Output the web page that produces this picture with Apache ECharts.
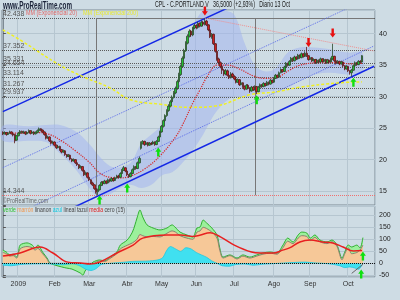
<!DOCTYPE html>
<html><head><meta charset="utf-8">
<script src="https://cdn.jsdelivr.net/npm/echarts@6/dist/echarts.min.js"></script>
<style>html,body{margin:0;padding:0;background:#cedce4}#c{width:400px;height:300px}</style>
</head><body><div id="c"></div>
<script>
// ---------- DATA ----------
const monthStarts = [9,30,50,72,92,112,134,157,178,200];
const monthLabels = ['2009','Feb','Mar','Abr','May','Jun','Jul','Ago','Sep','Oct'];
const slotCount = 216;
// daily candles [open, close, low, high]
const ohlc = [
[24.3,24.1,23.9,24.5],[24.1,24.3,24.0,24.5],[24.3,24.0,23.8,24.4],[24.0,24.2,23.9,24.4],[24.2,24.4,24.1,24.6],
[24.4,24.1,24.0,24.5],[24.1,23.9,23.7,24.2],[24.0,23.0,22.6,24.1],[23.1,23.8,23.0,23.9],[23.8,24.2,23.7,24.4],
[24.2,24.5,24.1,24.7],[24.5,24.3,24.1,24.6],[24.3,24.4,24.1,24.6],[24.4,24.1,23.9,24.5],[24.1,24.3,24.0,24.5],
[24.3,24.6,24.2,24.8],[24.6,24.2,24.0,24.7],[24.2,24.4,24.1,24.6],[24.4,24.1,23.9,24.5],[24.1,24.3,24.0,24.5],
[24.3,24.6,24.2,24.8],[24.6,24.9,24.5,25.1],[24.9,24.7,24.5,25.0],[24.7,24.4,24.2,24.8],[24.4,24.0,23.8,24.5],
[24.0,23.4,23.2,24.1],[23.4,23.6,23.3,23.8],[23.6,23.0,22.8,23.7],[23.0,22.6,22.4,23.1],[22.6,22.8,22.5,23.0],
[22.8,22.3,22.1,22.9],[22.3,21.9,21.7,22.4],[21.9,22.1,21.8,22.3],[22.1,21.6,21.4,22.2],[21.6,21.2,21.0,21.7],
[21.2,21.4,21.1,21.6],[21.4,20.8,20.6,21.5],[20.8,20.5,20.3,20.9],[20.5,20.7,20.4,20.9],[20.7,20.1,19.9,20.8],
[20.1,19.8,19.6,20.2],[19.8,20.0,19.7,20.2],[20.0,19.5,19.3,20.1],[19.5,19.2,19.0,19.6],[19.2,18.7,18.5,19.3],
[18.7,18.9,18.6,19.1],[18.9,18.3,18.1,19.0],[18.3,17.6,17.4,18.4],[17.6,17.9,17.5,18.1],[17.9,17.2,17.0,18.0],
[17.2,16.8,16.6,17.3],[16.8,16.3,16.1,16.9],[16.3,16.0,15.8,16.5],[16.0,15.4,15.2,16.1],[15.4,14.9,14.6,15.5],
[14.9,15.2,14.344,15.4],[15.2,15.9,15.1,16.1],[15.9,16.4,15.8,16.6],[16.4,16.2,16.0,16.6],[16.2,16.6,16.1,16.8],
[16.6,16.3,16.1,16.7],[16.3,16.8,16.2,17.0],[16.8,16.6,16.4,17.0],[16.6,17.0,16.5,17.2],[17.0,16.7,16.5,17.1],
[16.7,17.1,16.6,17.3],[17.1,17.4,17.0,17.6],[17.4,17.2,17.0,17.6],[17.2,17.8,17.1,18.0],[17.8,18.3,17.7,18.5],
[18.3,18.7,18.2,19.0],[18.7,18.2,18.0,18.8],[18.2,17.6,17.4,18.3],[17.6,17.3,17.1,17.7],[17.3,17.8,17.2,18.0],
[17.8,18.4,17.7,18.6],[18.4,18.9,18.3,19.1],[18.9,18.6,18.4,19.0],[18.6,19.5,18.5,19.7],[19.5,20.2,19.4,20.5],
[21.8,22.6,21.6,22.9],[22.6,22.9,22.4,23.1],[22.9,22.4,22.2,23.0],[22.4,22.7,22.3,22.9],[22.7,22.3,22.1,22.8],
[22.3,22.6,22.2,22.8],[22.6,22.5,22.3,22.8],[22.5,22.8,22.4,23.0],[22.8,22.4,22.2,22.9],[22.4,22.9,22.3,23.1],
[22.9,23.6,22.8,23.8],[23.6,24.4,23.5,24.6],[24.4,25.3,24.3,25.5],[25.3,26.2,25.1,26.4],[26.2,27.0,26.0,27.2],
[27.0,27.8,26.8,28.0],[27.8,28.5,27.6,28.8],[28.5,29.2,28.3,29.5],[29.2,29.9,29.0,30.2],[29.9,30.6,29.7,30.9],
[30.6,31.3,30.4,31.6],[31.3,32.4,31.1,32.7],[32.4,33.5,32.2,33.8],[33.5,34.8,33.3,35.1],[34.8,36.1,34.6,36.4],
[36.1,37.3,35.9,37.6],[37.3,38.5,37.1,38.8],[38.5,39.6,38.3,39.9],[39.6,40.4,39.4,40.7],[40.4,39.8,39.5,40.6],
[39.8,40.9,39.6,41.1],[40.9,41.3,40.7,41.6],[41.3,41.0,40.7,41.5],[41.0,41.6,40.8,41.9],[41.6,41.2,41.0,41.8],
[41.2,41.8,41.1,42.1],[41.8,41.5,41.2,42.0],[41.5,42.0,41.3,42.438],[42.0,41.4,41.2,42.2],[41.4,40.6,40.4,41.5],
[40.6,39.5,39.3,40.7],[39.5,39.9,39.2,40.1],[39.9,38.4,38.2,40.0],[38.4,37.2,37.0,38.5],[37.2,36.0,35.7,37.3],
[36.0,35.4,35.1,36.2],[35.4,34.8,34.5,35.6],[34.8,34.2,33.6,35.0],[34.2,33.6,33.3,34.4],[33.6,34.1,33.4,34.4],
[34.1,33.4,33.2,34.3],[33.4,33.0,32.8,33.6],[33.0,33.6,32.9,33.9],[33.6,33.2,33.0,33.8],[33.2,32.8,32.6,33.4],
[32.8,32.3,32.1,33.0],[32.3,32.7,32.2,32.9],[32.7,31.9,31.7,32.8],[31.9,32.2,31.8,32.5],[32.2,31.6,31.4,32.3],
[31.6,31.2,31.0,31.8],[31.2,31.8,31.1,32.0],[31.8,31.4,31.2,32.0],[31.4,30.9,30.6,31.5],[30.9,31.5,30.8,31.7],
[31.5,31.1,30.9,31.7],[31.1,31.6,31.0,31.8],[31.6,30.8,30.4,31.7],[30.8,31.5,30.7,31.7],[31.5,31.9,31.4,32.1],
[31.9,31.6,31.4,32.0],[31.6,32.1,31.5,32.3],[32.1,31.8,31.6,32.2],[31.8,32.3,31.7,32.5],[32.3,32.0,31.8,32.4],
[32.0,32.6,31.9,32.8],[32.6,32.3,32.1,32.7],[32.3,32.9,32.2,33.1],[32.9,33.4,32.8,33.6],[33.4,33.1,32.9,33.5],
[33.1,33.8,33.0,34.0],[33.8,34.3,33.7,34.5],[34.3,34.0,33.8,34.4],[34.0,34.7,33.9,34.9],[34.7,35.3,34.6,35.5],
[35.3,35.0,34.8,35.4],[35.0,35.6,34.9,35.8],[35.6,36.1,35.5,36.3],[36.1,35.7,35.5,36.2],[35.7,36.3,35.6,36.5],
[36.3,36.0,35.8,36.4],[36.0,36.6,35.9,36.8],[36.6,36.2,36.0,36.7],[36.2,36.8,36.1,37.0],[36.8,36.4,36.2,36.9],
[36.4,36.9,36.3,37.2],[36.9,36.5,36.3,37.9],[36.5,35.9,35.7,36.6],[35.9,36.2,35.8,36.4],[36.2,35.7,35.5,36.3],
[35.7,35.9,35.6,36.1],[35.9,35.4,35.2,36.0],[35.4,35.8,35.3,36.0],[35.8,35.5,35.3,35.9],[35.5,36.0,35.4,36.2],
[36.0,35.6,35.4,36.1],[35.6,35.9,35.5,36.1],[35.9,35.4,35.2,36.0],[35.4,35.8,35.3,36.0],[35.8,35.5,35.3,35.9],
[35.5,36.0,35.4,36.2],[36.0,36.4,35.8,38.4],[36.4,35.7,35.5,36.5],[35.7,35.3,35.1,35.8],[35.3,35.6,35.2,35.8],
[35.6,35.2,35.0,35.7],[35.2,35.5,35.1,35.7],[35.5,34.9,34.7,35.6],[34.9,34.4,34.2,35.0],[34.4,34.8,34.3,35.0],
[34.8,34.1,33.9,34.9],[34.1,33.8,33.5,34.2],[33.8,34.2,33.2,34.4],[34.2,34.9,34.1,35.1],[34.9,35.4,34.8,35.6],
[35.4,35.1,34.9,35.5],[35.1,35.6,35.0,35.8],[35.6,35.5,35.3,35.8],[35.5,36.5,35.4,36.6]
];
// moving averages, [candle index, value]
const ema20 = [[0,24.3],[10,24.2],[20,24.3],[27,24.0],[35,22.8],[42,21.4],[50,19.6],[56,17.9],[62,17.2],[68,17.1],[74,17.4],[82,18.5],[91,20.6],[100,23.6],[104,25.5],[110,29.0],[114,31.0],[119,33.5],[124,35.0],[130,35.0],[137,34.4],[145,33.3],[152,32.9],[158,33.0],[166,34.2],[172,35.0],[184,35.4],[195,35.4],[201,35.2],[208,35.29]];
const ema200 = [[0,40.6],[10,39.0],[33,35.0],[47,33.1],[62,31.4],[74,29.5],[91,28.8],[108,28.3],[123,28.5],[143,30.3],[158,30.75],[172,31.5],[195,32.2],[208,32.35]];
// shaded envelope
const bandIdx   = [0,15,25,33,42,50,56,62,68,74,80,86,92,98,104,110,116,122,128,134,140,146,152,158,165,172,180,190,200,208];
const bandUpper = [25.4,25.3,25.5,25.5,24.5,22.5,20.5,19.0,18.8,19.5,22.5,24.0,25.5,29.5,35.0,41.0,43.7,43.7,43.7,43.0,38.5,35.0,34.0,34.5,37.0,37.8,37.8,37.5,37.0,37.0];
const bandLower = [23.0,23.0,22.8,21.0,18.5,15.5,14.0,14.5,15.5,16.0,15.5,16.0,17.5,18.0,19.5,21.5,24.0,27.0,29.0,30.0,30.0,30.5,30.8,31.0,31.5,32.5,33.5,33.8,33.5,33.8];
// retracement levels
const fibLevels = [42.438,37.352,35.331,34.654,33.114,31.267,29.937,14.344];
const fibStart = 54, fibEnd = 146;
// trend channel lines [[idx, price],[idx, price]]
const chanUpper = [[0,27.62],[215,54.8]];
const chanLower = [[0,7.14],[215,34.83]];
const chanDot1 = [[0,18.73],[215,45.97]];
const chanDot2 = [[0,10.35],[215,38.06]];
const resistLine = [[117,42.49],[215,37.25]];
// signals
const arrowsDown = [[117,43.6],[177,38.6],[191,40.1]];
const arrowsUp = [[56,13.6],[72,15.5],[90,21.2],[147,29.5],[203,32.3]];
// price tags
const tagValues = [36.5,35.286,32.352];
const tagTexts = ['36,5000','35,286','32,352'];
// oscillator panel
const verde = [[0,55],[2,47],[4,35],[6,38],[8,26],[9,47],[10,76],[14,85],[17,76],[18.6,64],[20.3,76],[23,47],[25.6,22],[27.3,1],[30,-7],[34,-15],[37,-20],[40,-24],[44.7,-40],[46.4,-49],[47.6,-32],[50.5,-7],[52.2,5],[56,14],[59,10],[62,26],[66,47],[68,76],[72,97],[75,130],[76.5,160],[77.7,189],[79.4,222],[81,193],[83.5,160],[87,147],[91,139],[95,147],[98,160],[99.7,151],[102.6,130],[106.6,118],[110,110],[112.4,147],[114.2,151],[116,180],[118,168],[121,147],[124,118],[125.6,64],[127.5,26],[131.5,35],[135.6,22],[139,35],[143,26],[147,35],[150.6,43],[154.7,47],[158.7,43],[162.2,76],[165,105],[168,89],[171,118],[173,130],[176,126],[178,105],[180.7,118],[183.6,97],[187.7,89],[190.6,97],[193.5,76],[196.4,22],[198,47],[200,76],[202,68],[205,76],[206.8,64],[208.5,107]];
const marron = [[0,45],[2,40],[4,30],[6,32],[8,22],[10,60],[14,70],[17,65],[18.6,55],[20.3,62],[23,40],[25.6,18],[27.3,0],[52,0],[56,10],[59,8],[62,20],[66,40],[68,60],[72,75],[75,85],[77.7,100],[79.4,120],[81,115],[83.5,110],[87,112],[91,110],[95,125],[98,135],[100,130],[102.6,115],[106.6,105],[110,100],[112.4,130],[114.2,135],[116,150],[118,145],[121,130],[124,105],[125.6,55],[127.5,22],[131.5,32],[135.6,18],[139,30],[143,22],[147,30],[150.6,38],[154.7,42],[158.7,38],[162.2,65],[165,92],[168,82],[171,105],[173,115],[176,112],[178,95],[180.7,108],[183.6,90],[187.7,82],[190.6,90],[193.5,70],[196.4,15],[198,40],[200,65],[202,40],[205,45],[206.8,55],[208.5,76]];
const azul = [[0,-8],[5,-10],[10,-5],[15,-3],[25,-2],[30,-4],[35,-6],[40,-2],[45,-12],[48,-25],[51,-30],[54,-22],[57,-5],[62,0],[68,3],[75,8],[85,10],[92,20],[95,55],[97,70],[100,60],[103,50],[106,65],[109,60],[112,45],[115,35],[118,25],[121,10],[124,0],[127,-10],[131,-12],[135,-5],[140,-3],[145,-8],[150,-4],[155,-2],[160,0],[165,2],[170,4],[175,5],[180,2],[185,0],[190,-3],[195,-10],[198,-18],[201,-15],[204,-20],[206,-25],[208,-7]];
const media = [[0,30],[10,43],[21.5,68],[29,43],[37.6,5],[45,1],[50.5,-3],[56,5],[66,43],[75.4,76],[81,105],[95,118],[103,118],[110,112],[114,117],[120,127],[126,110],[134,76],[144,47],[149,43],[157,43],[162,55],[166,64],[172,89],[178,97],[185,89],[191,85],[197,68],[203,51],[208,53]];
const lineal = [[202,-42],[208.5,-4]];
const oscArrows = [[208.5,30],[207.5,-45]];
const oscTagValues = [106.83,76.07,52.0,-7.001];
const oscTagTexts = ['106,83','76,071','55,046','-7,001'];
const oscTagColors = ['#22c022','#f09040','#e02020','#10c8e0'];

// ---------- CHART ----------
const FF = '"Liberation Sans", Arial, sans-serif';
const mctx = document.createElement('canvas').getContext('2d');
function fit(text, font, w){ mctx.font = font; return w / mctx.measureText(text).width; }
const cats = Array.from({length: slotCount}, (_, i) => String(i));
const isMonth = (i) => monthStarts.indexOf(i) >= 0;
const upArrow = 'path://M5,0 L10,6 L7,6 L7,13 L3,13 L3,6 L0,6 Z';
const downArrow = 'path://M3,0 L7,0 L7,7 L10,7 L5,13 L0,7 L3,7 Z';
const GRIDC = '#b6c6d0';
const FRAME = '#7d8a94';

const fibMarks = fibLevels.map(v => ({
  yAxis: v,
  lineStyle: {type: 'dotted', color: v === 14.344 ? '#f07070' : '#5a5a5a', width: 1},
  label: {show: true, position: 'insideStartTop', distance: 1, formatter: v.toFixed(3), fontSize: 7, color: '#555', fontFamily: FF}
}));
fibMarks.push([{coord: [fibStart, fibLevels[0]], lineStyle: {type: 'solid', color: '#777', width: 1}}, {coord: [slotCount - 1, fibLevels[0]]}]);
fibMarks.push([{coord: [fibStart, fibLevels[0]], lineStyle: {type: 'solid', color: '#777', width: 1}}, {coord: [fibStart, fibLevels[7]]}]);
fibMarks.push([{coord: [fibEnd, fibLevels[0]], lineStyle: {type: 'solid', color: '#777', width: 1}}, {coord: [fibEnd, fibLevels[7]]}]);
const tagColors = [['#111', '#f7bb00'], ['#e02020', '#d8e2e8'], ['#e8e020', '#d8e2e8']];
tagValues.forEach((v, k) => fibMarks.push({
  yAxis: v, lineStyle: {opacity: 0},
  label: {show: true, position: 'end', distance: 2, formatter: tagTexts[k], fontSize: 7, fontFamily: FF,
    color: tagColors[k][0], backgroundColor: tagColors[k][1], borderColor: '#808c96', borderWidth: 1, padding: [1, 2, 0, 2]}
}));

const arrowPts = arrowsDown.map(p => ({coord: p, symbol: downArrow, symbolSize: [6, 9], itemStyle: {color: '#e81010'}}))
  .concat(arrowsUp.map(p => ({coord: p, symbol: upArrow, symbolSize: [6, 9], itemStyle: {color: '#10e010'}})));

function lineSeries(data, color, type, width, extra) {
  return Object.assign({type: 'line', xAxisIndex: 1, yAxisIndex: 0, data: data, symbol: 'none', silent: true,
    lineStyle: {color: color, type: type, width: width}, z: 3}, extra || {});
}

const oscMarks = [{yAxis: 0, lineStyle: {type: 'dotted', color: '#111', width: 1}, label: {show: false}}];
oscTagValues.forEach((v, k) => oscMarks.push({
  yAxis: v, lineStyle: {opacity: 0},
  label: {show: true, position: 'end', distance: 2, formatter: oscTagTexts[k], fontSize: 7, fontFamily: FF,
    color: oscTagColors[k], backgroundColor: '#d8e2e8', borderColor: '#808c96', borderWidth: 1, padding: [1, 2, 0, 2]}
}));

const option = {
  animation: false,
  backgroundColor: '#cedce4',
  textStyle: {fontFamily: FF},
  grid: [
    {left: 2, right: 25, top: 10, height: 195, show: true, borderColor: FRAME, borderWidth: 1, outerBoundsMode: 'none'},
    {left: 2, right: 25, top: 206, height: 71, show: true, borderColor: FRAME, borderWidth: 1, outerBoundsMode: 'none'}
  ],
  xAxis: [
    {type: 'category', gridIndex: 0, data: cats, boundaryGap: true, axisLine: {show: false}, axisTick: {show: false}, axisLabel: {show: false},
      splitLine: {show: true, interval: (i) => isMonth(i), lineStyle: {color: GRIDC, width: 1}}},
    {type: 'value', gridIndex: 0, min: -0.5, max: slotCount - 0.5, show: false},
    {type: 'category', gridIndex: 1, data: cats, boundaryGap: true, axisLine: {show: false}, axisTick: {show: false},
      axisLabel: {show: true, interval: (i) => isMonth(i), formatter: (v, i) => monthLabels[monthStarts.indexOf(i)] || '', fontSize: 7, color: '#333', margin: 4},
      splitLine: {show: true, interval: (i) => isMonth(i), lineStyle: {color: GRIDC, width: 1}}},
    {type: 'value', gridIndex: 1, min: -0.5, max: slotCount - 0.5, show: false}
  ],
  yAxis: [
    {type: 'value', gridIndex: 0, position: 'right', min: 12.8, max: 43.76, minInterval: 5, maxInterval: 5, splitNumber: 6,
      axisLine: {show: true, lineStyle: {color: FRAME}}, axisTick: {show: true, length: 3, lineStyle: {color: '#555'}},
      axisLabel: {fontSize: 7, color: '#222', margin: 4, formatter: (v) => (Math.abs(v % 5) < 1e-6 ? String(v) : '')},
      splitLine: {show: true, lineStyle: {color: GRIDC}}},
    {type: 'value', gridIndex: 1, position: 'right', min: -57, max: 238.7, minInterval: 50, maxInterval: 50, splitNumber: 5,
      axisLine: {show: true, lineStyle: {color: FRAME}}, axisTick: {show: true, length: 3, lineStyle: {color: '#555'}},
      axisLabel: {fontSize: 7, color: '#222', margin: 4, formatter: (v) => (Math.abs(v % 50) < 1e-6 ? String(v) : '')},
      splitLine: {show: true, lineStyle: {color: GRIDC}}}
  ],
  series: [
    {type: 'custom', xAxisIndex: 1, yAxisIndex: 0, silent: true, z: 1, data: [[0, 20]],
      renderItem: function (params, api) {
        const pts = [];
        bandIdx.forEach((ix, k) => pts.push(api.coord([ix, bandUpper[k]])));
        for (let k = bandIdx.length - 1; k >= 0; k--) pts.push(api.coord([bandIdx[k], bandLower[k]]));
        return {type: 'polygon', shape: {points: pts, smooth: 0.35}, style: {fill: 'rgba(160,178,240,0.5)'}};
      }},
    lineSeries(chanDot1, '#6070e8', 'dotted', 1),
    lineSeries(chanDot2, '#6070e8', 'dotted', 1),
    lineSeries(chanUpper, '#1428e6', 'solid', 1.5),
    lineSeries(chanLower, '#1428e6', 'solid', 1.5),
    lineSeries(resistLine, '#f09090', 'dotted', 1),
    lineSeries(ema200, '#f0f020', [3, 2], 1.5, {smooth: 0.4}),
    lineSeries(ema20, '#d82828', 'dotted', 1.2, {smooth: 0.4}),
    {type: 'candlestick', xAxisIndex: 0, yAxisIndex: 0, data: ohlc, barWidth: 2, z: 4, silent: true,
      itemStyle: {color: '#22c030', color0: '#d02020', borderColor: '#2c4a2c', borderColor0: '#5a1a1a', borderWidth: 0.8},
      markLine: {symbol: 'none', silent: true, data: fibMarks, z: 2},
      markPoint: {silent: true, label: {show: false}, data: arrowPts}},
    // oscillator
    {type: 'line', xAxisIndex: 3, yAxisIndex: 1, data: verde, symbol: 'none', smooth: 0.3, silent: true,
      lineStyle: {color: '#30b030', width: 1}, areaStyle: {color: '#9cf09c', opacity: 1}, z: 2},
    {type: 'line', xAxisIndex: 3, yAxisIndex: 1, data: marron, symbol: 'none', smooth: 0.3, silent: true,
      lineStyle: {color: '#8a8070', width: 1}, areaStyle: {color: '#f6c898', opacity: 1}, z: 3},
    {type: 'line', xAxisIndex: 3, yAxisIndex: 1, data: azul, symbol: 'none', smooth: 0.3, silent: true,
      lineStyle: {color: '#20c8e0', width: 0.8}, areaStyle: {color: '#40e0f0', opacity: 1}, z: 4},
    {type: 'line', xAxisIndex: 3, yAxisIndex: 1, data: lineal, symbol: 'none', silent: true,
      lineStyle: {color: '#666', width: 1}, z: 5},
    {type: 'line', xAxisIndex: 3, yAxisIndex: 1, data: media, symbol: 'none', smooth: 0.4, silent: true,
      lineStyle: {color: '#e82020', width: 1.5}, z: 6,
      markLine: {symbol: 'none', silent: true, data: oscMarks},
      markPoint: {silent: true, label: {show: false}, data: oscArrows.map(p => ({coord: p, symbol: upArrow, symbolSize: [6, 9], itemStyle: {color: '#10e010'}}))}}
  ],
  graphic: [
    {type: 'text', x: 3, y: 6, scaleX: fit('www.ProRealTime.com', 'bold 10px ' + FF, 69), z: 100,
      style: {text: 'www.ProRealTime.com', font: 'bold 10px ' + FF, fill: '#1a2238', verticalAlign: 'middle'}},
    {type: 'text', x: 155, y: 5, scaleX: fit('CPL - C.PORTLAND V   36,5000 (+2,93%)   Diario 13 Oct', '9px ' + FF, 135), z: 100,
      style: {text: 'CPL - C.PORTLAND V   36,5000 (+2,93%)   Diario 13 Oct', font: '9px ' + FF, fill: '#1a1a1a', verticalAlign: 'middle'}},
    {type: 'text', x: 26, y: 13, scaleX: fit('MM (Exponencial 20)', '7px ' + FF, 51), z: 100,
      style: {text: 'MM (Exponencial 20)', font: '7px ' + FF, fill: '#e06868', verticalAlign: 'middle'}},
    {type: 'text', x: 83, y: 13, scaleX: fit('MM (Exponencial 200)', '7px ' + FF, 55), z: 100,
      style: {text: 'MM (Exponencial 200)', font: '7px ' + FF, fill: '#e8e830', verticalAlign: 'middle'}},
    {type: 'text', x: 3, y: 201, scaleX: fit('©ProRealTime.com', '7px ' + FF, 45), z: 100,
      style: {text: '©ProRealTime.com', font: '7px ' + FF, fill: '#666', verticalAlign: 'middle'}},
    {type: 'text', x: 3, y: 210, scaleX: fit('verde marrón linanon azul lineal tazul media cero (15)', '7px ' + FF, 122), z: 100,
      style: {text: '{g|verde} {o|marrón} {k|linanon} {c|azul} {k|lineal tazul} {r|media} {k|cero (15)}', font: '7px ' + FF, verticalAlign: 'middle',
        rich: {g: {fill: '#30c030', fontSize: 7}, o: {fill: '#f09850', fontSize: 7}, k: {fill: '#444', fontSize: 7}, c: {fill: '#10c8e0', fontSize: 7}, r: {fill: '#e02020', fontSize: 7}}}}
  ]
};
const chart = echarts.init(document.getElementById('c'), null, {renderer: 'canvas', width: 400, height: 300});
chart.setOption(option);
</script></body></html>
